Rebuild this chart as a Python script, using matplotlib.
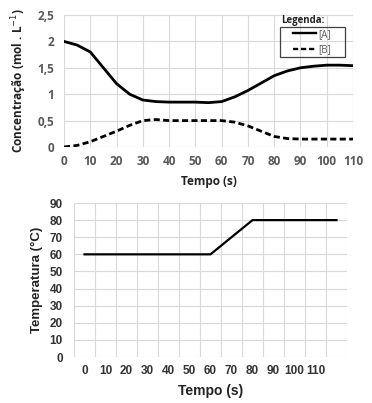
import matplotlib
matplotlib.use("Agg")
import matplotlib.pyplot as plt
from matplotlib.lines import Line2D
from matplotlib.patches import Rectangle

# ---- data: top chart (concentration) ----
tempo = [0, 5, 10, 15, 20, 25, 30, 35, 40, 45, 50, 55, 60, 65, 70, 75, 80, 85, 90, 95, 100, 105, 110]
conc_A = [2.0, 1.93, 1.8, 1.5, 1.2, 1.0, 0.89, 0.86, 0.85, 0.85, 0.85, 0.84, 0.86, 0.95, 1.07, 1.21, 1.35, 1.44, 1.5, 1.53, 1.55, 1.55, 1.54]
conc_B = [0.0, 0.03, 0.1, 0.2, 0.3, 0.41, 0.5, 0.52, 0.5, 0.5, 0.5, 0.5, 0.5, 0.47, 0.4, 0.3, 0.2, 0.16, 0.15, 0.15, 0.15, 0.15, 0.15]
top_yticks = [0, 0.5, 1, 1.5, 2, 2.5]
top_yticklabels = ["0", "0,5", "1", "1,5", "2", "2,5"]
top_xticks = [0, 10, 20, 30, 40, 50, 60, 70, 80, 90, 100, 110]

# ---- data: bottom chart (temperature) ----
tempo_T = [0, 10, 20, 30, 40, 50, 60, 70, 80, 90, 100, 110, 120]
temperatura = [60, 60, 60, 60, 60, 60, 60, 70, 80, 80, 80, 80, 80]
bot_xticks = [0, 10, 20, 30, 40, 50, 60, 70, 80, 90, 100, 110]
bot_yticks = [0, 10, 20, 30, 40, 50, 60, 70, 80, 90]

W, H = 372, 403
fig = plt.figure(figsize=(W / 100, H / 100), dpi=100)

def box(l, t, r, b):
    return [l / W, 1 - b / H, (r - l) / W, (b - t) / H]

grid_c = "#d9d9d9"
tick_c = "#595959"
top_font = "Open Sans"
bot_font = "Liberation Sans"

# ---------------- top chart ----------------
ax1 = fig.add_axes(box(64, 15, 353, 147))
ax1.plot(tempo, conc_A, color="black", lw=2.0, solid_capstyle="round")
ax1.plot(tempo, conc_B, color="black", lw=2.0, linestyle=(0, (2.2, 1.2)))
ax1.set_xlim(0, 110)
ax1.set_ylim(0, 2.5)
ax1.set_xticks(top_xticks)
ax1.set_yticks(top_yticks)
ax1.set_yticklabels(top_yticklabels)
for s in ax1.spines.values():
    s.set_visible(False)
ax1.grid(True, color=grid_c, lw=0.8)
ax1.set_axisbelow(True)
ax1.tick_params(axis="x", length=0, pad=6, labelsize=8.5, labelcolor=tick_c)
ax1.tick_params(axis="y", length=0, pad=7, labelsize=8.5, labelcolor=tick_c)
for lab in ax1.get_xticklabels() + ax1.get_yticklabels():
    lab.set_fontfamily(top_font)
    lab.set_fontweight("bold")
ax1.set_xlabel("Tempo (s)", fontsize=8.5, fontweight="bold", family=top_font, labelpad=5, color="#222222")
ax1.set_ylabel("Concentração (mol . L$^{-1}$)", fontsize=8.5, fontweight="bold", family=top_font, labelpad=6, color="#222222")

# legend (frame drawn separately so its size matches)
handles = [Line2D([], [], color="black", lw=1.7),
           Line2D([], [], color="black", lw=1.7, linestyle=(0, (2.2, 1.2)))]
leg = fig.legend(handles, ["[A]", "[B]"], loc="center left",
                 bbox_to_anchor=(293 / W, 1 - 42 / H),
                 frameon=False, fontsize=7, handlelength=2.4,
                 handletextpad=0.15, borderpad=0, labelspacing=0.45,
                 borderaxespad=0)
for t in leg.get_texts():
    t.set_color(tick_c)
    t.set_fontfamily(top_font)
fig.patches.append(Rectangle((280 / W, 1 - 57 / H), 65 / W, 30 / H,
                             transform=fig.transFigure, fill=False,
                             edgecolor="#404040", lw=0.9))
fig.text(281 / W, 1 - 20 / H, "Legenda:", fontsize=7, fontweight="bold",
         family=top_font, va="center", ha="left", color="#222222")

# ---------------- bottom chart ----------------
ax2 = fig.add_axes(box(74, 203, 347, 357))
ax2.plot(tempo_T, temperatura, color="black", lw=1.6)
ax2.set_xlim(-5, 125)
ax2.set_ylim(0, 90)
ax2.set_xticks(bot_xticks)
ax2.set_yticks(bot_yticks)
ax2.set_xticks([x - 5 for x in tempo_T] + [125], minor=True)
for s in ax2.spines.values():
    s.set_visible(False)
ax2.grid(True, which="minor", axis="x", color=grid_c, lw=0.8)
ax2.grid(True, which="major", axis="y", color=grid_c, lw=0.8)
ax2.set_axisbelow(True)
ax2.tick_params(which="both", length=0)
ax2.tick_params(axis="x", pad=6, labelsize=8.5, labelcolor="#333333")
ax2.tick_params(axis="y", pad=8, labelsize=8.5, labelcolor="#333333")
for lab in ax2.get_xticklabels() + ax2.get_yticklabels():
    lab.set_fontfamily(bot_font)
    lab.set_fontweight("bold")
ax2.set_xlabel("Tempo (s)", fontsize=10, fontweight="bold", family=bot_font, labelpad=5, color="#222222")
ax2.set_ylabel("Temperatura (°C)", fontsize=9.5, fontweight="bold", family=bot_font, labelpad=5, color="#222222")

fig.savefig("out.png", dpi=100, facecolor="white")
